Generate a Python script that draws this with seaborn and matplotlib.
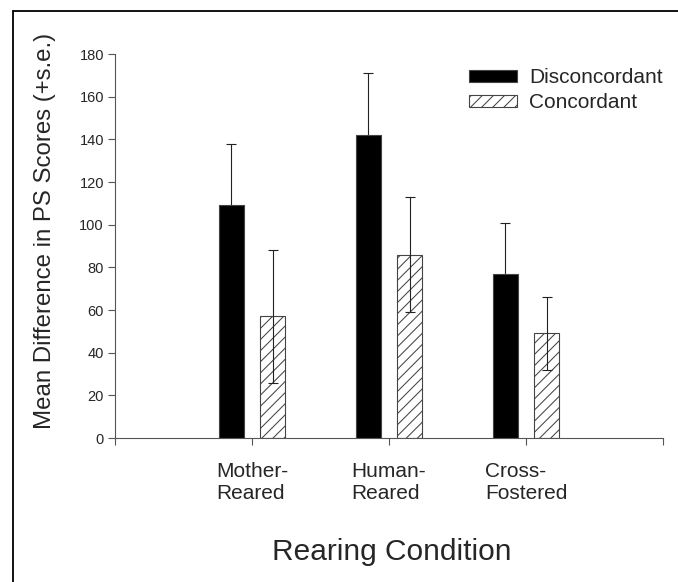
import numpy as np
import pandas as pd
import seaborn as sns
import matplotlib.pyplot as plt
from matplotlib.lines import Line2D
from matplotlib.patches import Patch

# values
conditions = ["Mother-\nReared", "Human-\nReared", "Cross-\nFostered"]
groups = ["Disconcordant", "Concordant"]
disconcordant_mean = [109, 142, 77]
disconcordant_se = [29, 29, 24]
concordant_mean = [57, 86, 49]
concordant_se = [31, 27, 17]

df = pd.DataFrame({
    "condition": conditions * 2,
    "group": [groups[0]] * 3 + [groups[1]] * 3,
    "mean": disconcordant_mean + concordant_mean,
    "se": disconcordant_se + concordant_se,
})

sns.set_style("white")
plt.rcParams["font.family"] = ["Liberation Sans", "DejaVu Sans"]
plt.rcParams["hatch.linewidth"] = 0.75

fig = plt.figure(figsize=(6.78, 5.82), dpi=100)
ax = fig.add_axes([115 / 678, 1 - 438 / 582, (663 - 115) / 678, (438 - 54) / 582])

sns.barplot(
    data=df,
    x="condition",
    y="mean",
    hue="group",
    order=conditions,
    hue_order=groups,
    palette={"Disconcordant": "black", "Concordant": "white"},
    width=0.6,
    gap=0.4,
    errorbar=None,
    legend=False,
    edgecolor="#444444",
    linewidth=0.8,
    ax=ax,
)

# hatch the concordant bars and add the error bars
ses = [disconcordant_se, concordant_se]
bar_sets = list(ax.containers)
for i, cont in enumerate(bar_sets):
    xs = []
    ys = []
    for bar in cont:
        xs.append(bar.get_x() + bar.get_width() / 2)
        ys.append(bar.get_height())
        if i == 1:
            bar.set_hatch("///")
    ax.errorbar(xs, ys, yerr=ses[i], fmt="none", ecolor="#222222",
                elinewidth=0.8, capsize=3.3, capthick=0.8,
                zorder=0.5 if i == 0 else 3)

ax.set_xlim(-1, 3)
ax.set_ylim(0, 180)
ax.set_yticks(range(0, 181, 20))
ax.set_xticks([-1, 0, 1, 2, 3])
ax.set_xticklabels([""] + conditions + [""], fontsize=15, multialignment="left")
ax.tick_params(axis="y", labelsize=10.5, length=5, width=0.8, color="#555555",
               pad=3, left=True, direction="out")
ax.tick_params(axis="x", length=5, width=0.8, color="#555555", pad=12,
               bottom=True, direction="out")
sns.despine(ax=ax)
for s in ["left", "bottom"]:
    ax.spines[s].set_color("#555555")
    ax.spines[s].set_linewidth(0.8)

ax.set_xlabel("")
ax.set_ylabel("")
fig.text(392 / 678, 1 - 552 / 582, "Rearing Condition", fontsize=21.5,
         ha="center", va="center")
fig.text(45 / 678, 1 - 231 / 582, "Mean Difference in PS Scores (+s.e.)",
         fontsize=17.3, rotation=90, ha="center", va="center")

handles = [
    Patch(facecolor="black", edgecolor="#444444", linewidth=0.8),
    Patch(facecolor="white", edgecolor="#444444", linewidth=0.8, hatch="///"),
]
fig.legend(handles, groups, loc="upper left",
           bbox_to_anchor=(469 / 678, 1 - 68 / 582), frameon=False,
           fontsize=15, handlelength=2.3, handleheight=0.5,
           handletextpad=0.6, labelspacing=0.3, borderpad=0, borderaxespad=0)

# partial frame around the figure
fig.add_artist(Line2D([13 / 678, 13 / 678], [0, 1 - 11 / 582], color="black", lw=1.3))
fig.add_artist(Line2D([13 / 678, 1], [1 - 11 / 582, 1 - 11 / 582], color="black", lw=1.3))

fig.savefig("out.png", dpi=100)
